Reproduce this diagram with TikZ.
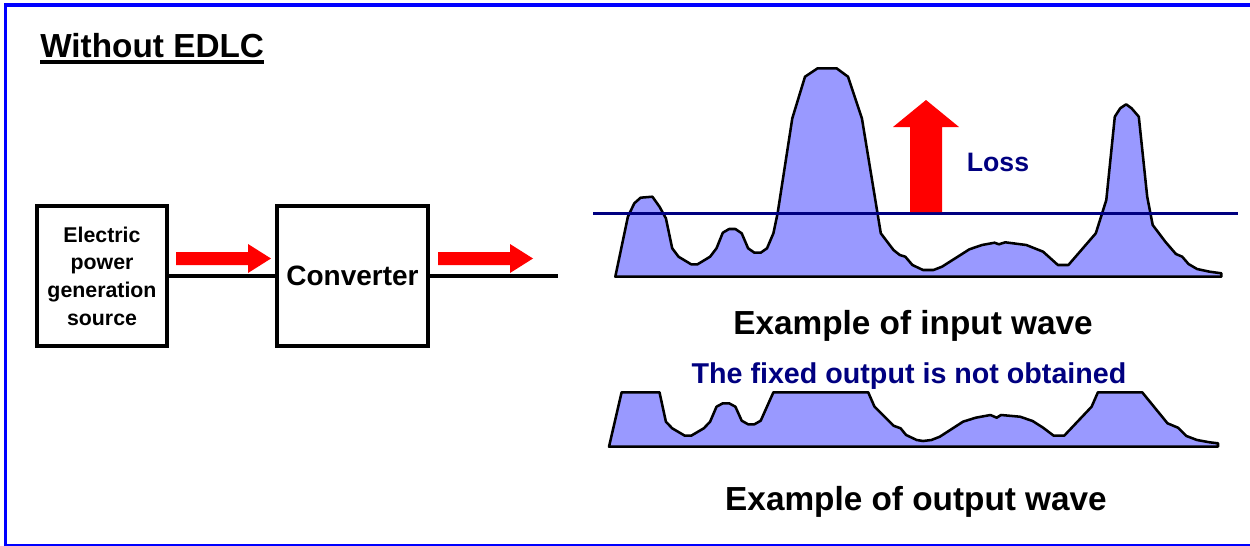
\documentclass[tikz,border=0pt]{standalone}
\usepackage{fontspec}
\setmainfont{Liberation Sans}
\usetikzlibrary{positioning}
\definecolor{navyline}{RGB}{0,0,128}
\definecolor{wavefill}{RGB}{153,153,255}

\begin{document}
\begin{tikzpicture}[x=0.75pt,y=-0.75pt,
  blockbox/.style={draw,line width=3pt,inner sep=0pt,minimum height=105pt},
  wire/.style={line width=3pt},
  wave/.style={draw=black,fill=wavefill,line width=1.9pt,line join=round},
  flowarrow/.style={fill=red},
  caption/.style={font=\fontsize{25}{30}\selectfont\bfseries,anchor=base,inner sep=0pt}]
  \useasboundingbox (0,0) rectangle (1250,546);
  \begin{scope}
    \clip (0,0) rectangle (1250,546);
    \draw[blue,line width=2.8pt] (5.5,5) rectangle (1270,545.5);
  \end{scope}

  % title
  \node[anchor=base west,inner sep=0pt,font=\fontsize{25}{30}\selectfont\bfseries] (title) at (40,57.5) {Without EDLC};
  \draw[line width=2.6pt] ([yshift=-3pt]title.south west) -- ([yshift=-3pt]title.south east);

  % blocks
  \node[blockbox,minimum width=97.5pt,align=center,font=\fontsize{16}{20.8}\selectfont\bfseries] (source) at (102,276) {Electric\\power\\generation\\source};
  \node[blockbox,minimum width=113.25pt,font=\fontsize{21}{25}\selectfont\bfseries,right=79.5pt of source] (conv) {Converter};
  \coordinate (outend) at (558,276);
  \draw[wire] (source.east) -- (conv.west);
  \draw[wire] (conv.east) -- (outend);
  \foreach \ax in {176,438}
    \fill[flowarrow] (\ax,252) -- (\ax+72,252) -- (\ax+72,244) -- (\ax+95,258.5) -- (\ax+72,273) -- (\ax+72,265) -- (\ax,265) -- cycle;

  % input wave
  \filldraw[wave] plot coordinates {(615.3,276.7) (627.9,216.7) (634.3,203.3) (640.6,197.7) (652.4,196.7) (659.5,206.7) (665.9,218.3) (672.2,248.3) (678.5,256.7) (691.2,264.3) (697.5,264.3) (710.1,256.7) (716.5,248.3) (722.8,232.7) (729.1,229) (735.4,229) (741.7,233.3) (748.1,248.3) (754.4,252.7) (760.7,252.7) (767,248.3) (773.4,233.3) (777.6,213.3) (792.3,118.3) (805,76.7) (817.6,68.3) (836.6,68.3) (848,76.7) (861.9,118.3) (880.8,233.3) (893.5,250) (899.8,255) (905.3,256.7) (912.4,265) (923,270) (933.5,270) (942,266.7) (969.4,249.3) (982,245) (994.6,242.7) (998.9,244.3) (1005.2,242.3) (1026.3,245) (1043.1,251.7) (1057.9,265) (1068.4,265) (1095.8,233.3) (1106.3,200) (1114.8,116.7) (1120.2,108.3) (1126.1,104.3) (1131.6,108.3) (1138.8,116.7) (1147.2,196.7) (1152.7,225) (1165.3,241.7) (1175.9,254) (1182.2,256.7) (1188.5,264) (1197,269) (1209.6,271.7) (1221.4,273.3) (1221.4,276.7)} -- cycle;
  \coordinate (levelL) at (593,213);
  \coordinate (levelR) at (1238,213);
  \draw[navyline,line width=2.25pt] (levelL) -- (levelR);
  \fill[flowarrow] (910,212) -- (910,127) -- (893,127) -- (926,100) -- (959,127) -- (942,127) -- (942,212) -- cycle;
  \node[anchor=base,inner sep=0pt,text=navyline,font=\fontsize{20}{24}\selectfont\bfseries] (loss) at (998,171.5) {Loss};
  \node[caption] (incap) at (913,334) {Example of input wave};

  % output wave
  \node[anchor=base,inner sep=0pt,text=navyline,font=\fontsize{21.5}{26}\selectfont\bfseries] (fixed) at (909,383.3) {The fixed output is not obtained};
  \filldraw[wave] plot coordinates {(609,446.7) (621.6,392.3) (659.5,392.3) (665.9,421.7) (672.2,428.3) (684.8,435.7) (691.2,435.7) (703.8,428.3) (710.1,421.7) (716.5,406.7) (722.8,403.3) (729.1,403.3) (735.4,406.7) (741.7,420.7) (748.1,424.3) (754.4,424.3) (760.7,420.7) (773.4,392.3) (868.2,392.3) (874.5,406.7) (893.5,425.7) (900.6,428.3) (906.1,435) (916.7,440) (923,441) (931.4,440) (939.8,436.7) (963,421.7) (975.7,417.7) (990.4,415) (996.7,417.7) (1001,415) (1020,416.7) (1032.6,421) (1043.1,427.7) (1053.7,435.7) (1064.2,435.7) (1091.6,406.7) (1097.9,392.3) (1142.2,392.3) (1167.5,423.3) (1178,427.7) (1186.4,436) (1197,440) (1209.6,442.3) (1218,443.3) (1218,446.7)} -- cycle;
  \node[caption] (outcap) at (916,510) {Example of output wave};
\end{tikzpicture}
\end{document}
